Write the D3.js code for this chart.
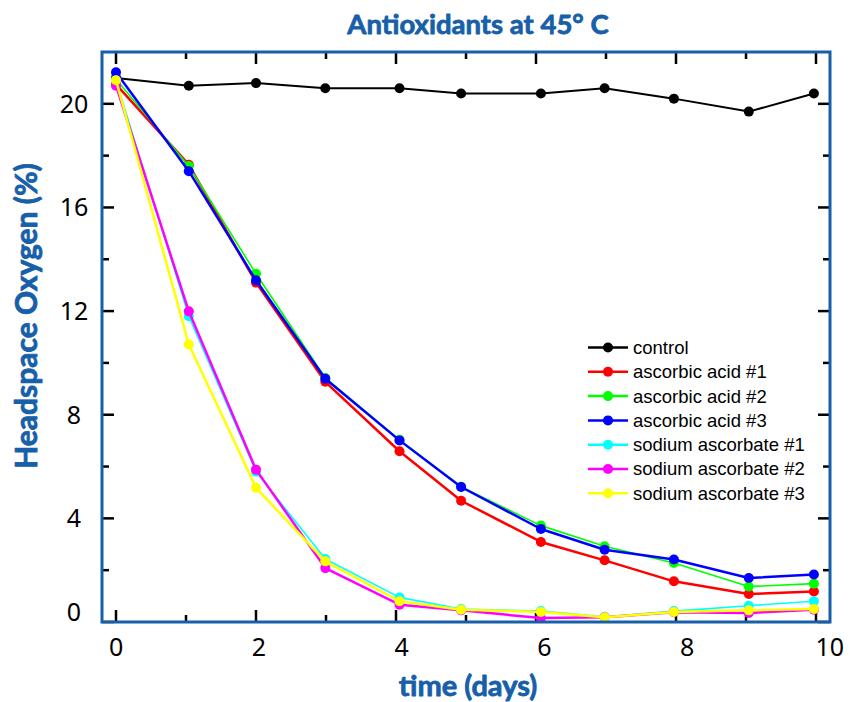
<!DOCTYPE html>
<html>
<head>
<meta charset="utf-8">
<script src="https://cdn.jsdelivr.net/npm/d3@7"></script>
<style>
  html, body { margin: 0; padding: 0; background: #ffffff; }
  svg { display: block; }
</style>
</head>
<body>
<svg id="chart" width="850" height="702"></svg>
<script>
// ---- data ----
const days = [0, 1.04, 2, 2.99, 4.05, 4.93, 6.07, 6.98, 7.97, 9.04, 9.97];
const control          = [21.0, 20.7, 20.8, 20.6, 20.6, 20.4, 20.4, 20.6, 20.2, 19.7, 20.4];
const ascorbicAcid1    = [20.75, 17.65, 13.1, 9.27, 6.59, 4.68, 3.09, 2.38, 1.57, 1.08, 1.18];
const ascorbicAcid2    = [20.95, 17.6, 13.44, 9.42, 7.03, 5.22, 3.72, 2.92, 2.28, 1.37, 1.48];
const ascorbicAcid3    = [21.22, 17.4, 13.19, 9.39, 7.01, 5.21, 3.59, 2.79, 2.41, 1.70, 1.83];
const sodiumAscorbate1 = [20.9, 11.8, 5.8, 2.43, 0.95, 0.5, 0.42, 0.2, 0.42, 0.63, 0.80];
const sodiumAscorbate2 = [20.7, 11.99, 5.88, 2.08, 0.67, 0.45, 0.15, 0.18, 0.38, 0.35, 0.47];
const sodiumAscorbate3 = [20.91, 10.71, 5.18, 2.34, 0.80, 0.47, 0.39, 0.18, 0.39, 0.45, 0.50];

const seriesNames  = ["control", "ascorbic acid #1", "ascorbic acid #2", "ascorbic acid #3",
                      "sodium ascorbate #1", "sodium ascorbate #2", "sodium ascorbate #3"];
const seriesValues = [control, ascorbicAcid1, ascorbicAcid2, ascorbicAcid3,
                      sodiumAscorbate1, sodiumAscorbate2, sodiumAscorbate3];
const seriesColors = ["#000000", "#ff0000", "#00ff00", "#0000ff", "#00ffff", "#ff00ff", "#ffff00"];
const seriesWidths = [2, 2.5, 1.6, 2.5, 1.6, 2.5, 2.5];

const xMajorTicks = [0, 2, 4, 6, 8, 10];
const xMinorTicks = [1, 3, 5, 7, 9];
const yMajorTicks = [0, 4, 8, 12, 16, 20];
const yMinorTicks = [2, 6, 10, 14, 18];

const titleText = "Antioxidants at 45\u00B0 C";
const xTitle = "time (days)";
const yTitle = "Headspace Oxygen (%)";

// ---- layout ----
const blue = "#175fa9";
const pL = 102, pR = 830, pT = 52, pB = 622;

const svg = d3.select("#chart");

const x = d3.scaleLinear().domain([-0.2, 10.2]).range([pL, pR]);
const xLabel = d3.scaleLinear().domain([-0.2, 10.2]).range([pL, 844]);
const y = d3.scaleLinear().domain([0, 22]).range([pB, pT]);

// ticks (inside, all four sides)
const tickG = svg.append("g").attr("stroke", "#000").attr("stroke-width", 2.5);
const majorLen = 12, minorLen = 7;
function xTicks(vals, len) {
  vals.forEach(v => {
    tickG.append("line").attr("x1", x(v)).attr("x2", x(v)).attr("y1", pB).attr("y2", pB - len);
    tickG.append("line").attr("x1", x(v)).attr("x2", x(v)).attr("y1", pT).attr("y2", pT + len);
  });
}
function yTicks(vals, len) {
  vals.forEach(v => {
    tickG.append("line").attr("y1", y(v)).attr("y2", y(v)).attr("x1", pL).attr("x2", pL + len);
    tickG.append("line").attr("y1", y(v)).attr("y2", y(v)).attr("x1", pR).attr("x2", pR - len);
  });
}
xTicks(xMajorTicks, majorLen); xTicks(xMinorTicks, minorLen);
yTicks(yMajorTicks, majorLen); yTicks(yMinorTicks, minorLen);

// tick labels
const tickFont = "'Noto Sans', 'Open Sans', sans-serif";
svg.append("g").selectAll("text").data(xMajorTicks).join("text")
  .attr("x", d => xLabel(d)).attr("y", 656)
  .attr("text-anchor", "middle")
  .attr("font-family", tickFont).attr("font-size", 25).attr("fill", "#000")
  .text(d => d);
svg.append("g").selectAll("text").data(yMajorTicks).join("text")
  .attr("x", 74).attr("y", d => y(d) + (d === 0 ? -10 : 0))
  .attr("dy", "0.36em")
  .attr("text-anchor", "middle")
  .attr("font-family", tickFont).attr("font-size", 25).attr("fill", "#000")
  .text(d => d);

// series
const line = d3.line().x((d, i) => x(days[i])).y(d => y(d));
seriesValues.forEach((vals, si) => {
  const g = svg.append("g");
  g.append("path").datum(vals).attr("d", line)
    .attr("fill", "none").attr("stroke", seriesColors[si]).attr("stroke-width", seriesWidths[si])
    .attr("stroke-linejoin", "round");
  g.selectAll("circle").data(vals).join("circle")
    .attr("cx", (d, i) => x(days[i])).attr("cy", d => y(d)).attr("r", 5)
    .attr("fill", seriesColors[si]);
});

// frame
svg.append("rect").attr("x", pL).attr("y", pT).attr("width", pR - pL).attr("height", pB - pT)
  .attr("fill", "none").attr("stroke", blue).attr("stroke-width", 3);

// legend
const legendRow = d3.scaleLinear().domain([0, 6]).range([347.5, 493.3]);
const lg = svg.append("g");
seriesNames.forEach((name, i) => {
  const yy = legendRow(i);
  lg.append("line").attr("x1", 588).attr("x2", 628).attr("y1", yy).attr("y2", yy)
    .attr("stroke", seriesColors[i]).attr("stroke-width", 2.5);
  lg.append("circle").attr("cx", 608).attr("cy", yy).attr("r", 5).attr("fill", seriesColors[i]);
  lg.append("text").attr("x", 633).attr("y", yy).attr("dy", "0.35em")
    .attr("font-family", "'Liberation Sans', Arial, sans-serif").attr("font-size", 18.5)
    .attr("fill", "#000").text(name);
});

// titles
const titleFont = "Lato, 'Open Sans', sans-serif";
function boldText(sel, size) {
  return sel.attr("text-anchor", "middle").attr("font-family", titleFont).attr("font-weight", "bold")
    .attr("font-size", size).attr("fill", blue)
    .attr("stroke", blue).attr("stroke-width", 0.8).attr("stroke-linejoin", "round");
}
boldText(svg.append("text").attr("x", 478).attr("y", 34), 27.5).text(titleText);
boldText(svg.append("text").attr("x", 468).attr("y", 696), 29).text(xTitle);
boldText(svg.append("text").attr("transform", "translate(37,316) rotate(-90)"), 30).text(yTitle);
</script>
</body>
</html>
